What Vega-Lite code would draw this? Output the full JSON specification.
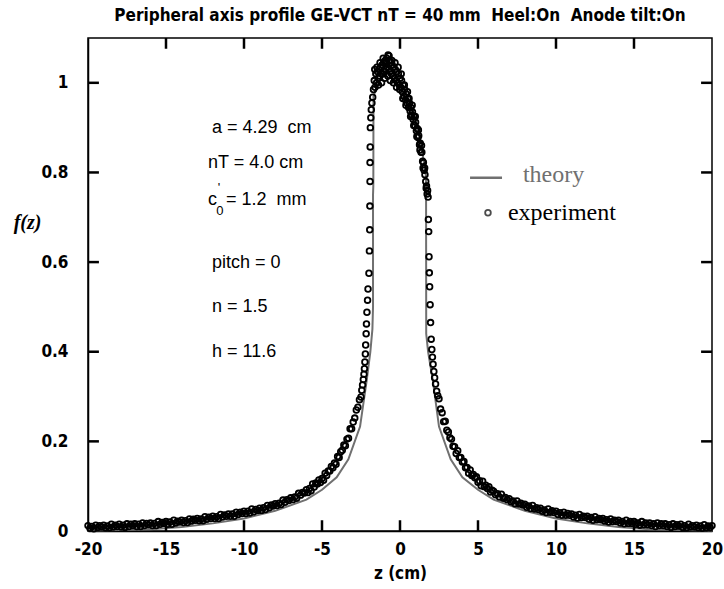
{
"$schema":"https://vega.github.io/schema/vega-lite/v6.json",
"width":624,"height":493,
"autosize":{"type":"none"},
"padding":{"left":88,"top":38,"right":12,"bottom":58},
"background":"white",
"title":{"text":"Peripheral axis profile GE-VCT nT = 40 mm\u00a0\u00a0Heel:On\u00a0\u00a0Anode tilt:On","font":"DejaVu Sans Condensed, sans-serif","fontSize":17,"fontWeight":"bold","color":"black","anchor":"middle","offset":12},
"config":{"view":{"stroke":"black","strokeWidth":1.5},
"axis":{"grid":false,"domainColor":"black","domainWidth":1.5,"ticks":false,"labelFont":"DejaVu Sans Condensed, sans-serif","labelFontSize":17,"labelFontWeight":"bold","labelColor":"black","titleColor":"black","labelFlush":false}},
"datasets":{
"theory":[{"i":0,"z":-20,"f":0.001},{"i":1,"z":-18,"f":0.002},{"i":2,"z":-16,"f":0.004},{"i":3,"z":-14,"f":0.009},{"i":4,"z":-12,"f":0.017},{"i":5,"z":-10,"f":0.028},{"i":6,"z":-8,"f":0.045},{"i":7,"z":-6,"f":0.07},{"i":8,"z":-5,"f":0.092},{"i":9,"z":-4.06,"f":0.12},{"i":10,"z":-3.31,"f":0.16},{"i":11,"z":-2.56,"f":0.233},{"i":12,"z":-2.13,"f":0.337},{"i":13,"z":-1.9,"f":0.4},{"i":14,"z":-1.77,"f":0.45},{"i":15,"z":-1.73,"f":0.5},{"i":16,"z":-1.73,"f":0.75},{"i":17,"z":-1.71,"f":0.77},{"i":18,"z":-1.7,"f":0.97},{"i":19,"z":-1.5,"f":0.99},{"i":20,"z":-1.2,"f":1.01},{"i":21,"z":-0.8,"f":1.022},{"i":22,"z":-0.4,"f":1.015},{"i":23,"z":0,"f":1.0},{"i":24,"z":0.4,"f":0.975},{"i":25,"z":0.8,"f":0.94},{"i":26,"z":1.2,"f":0.89},{"i":27,"z":1.5,"f":0.83},{"i":28,"z":1.67,"f":0.79},{"i":29,"z":1.68,"f":0.44},{"i":30,"z":1.8,"f":0.4},{"i":31,"z":2.1,"f":0.337},{"i":32,"z":2.5,"f":0.233},{"i":33,"z":3.25,"f":0.16},{"i":34,"z":4.0,"f":0.12},{"i":35,"z":5,"f":0.092},{"i":36,"z":6,"f":0.07},{"i":37,"z":8,"f":0.045},{"i":38,"z":10,"f":0.028},{"i":39,"z":12,"f":0.017},{"i":40,"z":14,"f":0.009},{"i":41,"z":16,"f":0.004},{"i":42,"z":18,"f":0.002},{"i":43,"z":20,"f":0.001}],
"exp":[
{"z":-20,"f":0.012},{"z":-19.875,"f":0.006},{"z":-19.75,"f":0.010},{"z":-19.625,"f":0.005},{"z":-19.5,"f":0.013},{"z":-19.375,"f":0.008},{"z":-19.25,"f":0.012},{"z":-19.125,"f":0.009},
{"z":-19,"f":0.013},{"z":-18.875,"f":0.007},{"z":-18.75,"f":0.011},{"z":-18.625,"f":0.007},{"z":-18.5,"f":0.015},{"z":-18.375,"f":0.009},{"z":-18.25,"f":0.013},{"z":-18.125,"f":0.010},
{"z":-18,"f":0.015},{"z":-17.875,"f":0.009},{"z":-17.75,"f":0.013},{"z":-17.625,"f":0.008},{"z":-17.5,"f":0.016},{"z":-17.375,"f":0.010},{"z":-17.25,"f":0.015},{"z":-17.125,"f":0.012},
{"z":-17,"f":0.016},{"z":-16.875,"f":0.010},{"z":-16.75,"f":0.015},{"z":-16.625,"f":0.010},{"z":-16.5,"f":0.018},{"z":-16.375,"f":0.012},{"z":-16.25,"f":0.017},{"z":-16.125,"f":0.014},
{"z":-16,"f":0.018},{"z":-15.875,"f":0.012},{"z":-15.75,"f":0.017},{"z":-15.625,"f":0.012},{"z":-15.5,"f":0.021},{"z":-15.375,"f":0.015},{"z":-15.25,"f":0.019},{"z":-15.125,"f":0.017},
{"z":-15,"f":0.021},{"z":-14.875,"f":0.015},{"z":-14.75,"f":0.020},{"z":-14.625,"f":0.015},{"z":-14.5,"f":0.024},{"z":-14.375,"f":0.018},{"z":-14.25,"f":0.022},{"z":-14.125,"f":0.020},
{"z":-14,"f":0.024},{"z":-13.875,"f":0.019},{"z":-13.75,"f":0.023},{"z":-13.625,"f":0.019},{"z":-13.5,"f":0.027},{"z":-13.375,"f":0.022},{"z":-13.25,"f":0.026},{"z":-13.125,"f":0.024},
{"z":-13,"f":0.028},{"z":-12.875,"f":0.023},{"z":-12.75,"f":0.027},{"z":-12.625,"f":0.023},{"z":-12.5,"f":0.032},{"z":-12.375,"f":0.026},{"z":-12.25,"f":0.031},{"z":-12.125,"f":0.028},
{"z":-12,"f":0.033},{"z":-11.875,"f":0.028},{"z":-11.75,"f":0.032},{"z":-11.625,"f":0.028},{"z":-11.5,"f":0.037},{"z":-11.375,"f":0.031},{"z":-11.25,"f":0.036},{"z":-11.125,"f":0.033},
{"z":-11,"f":0.038},{"z":-10.875,"f":0.033},{"z":-10.75,"f":0.038},{"z":-10.625,"f":0.033},{"z":-10.5,"f":0.042},{"z":-10.375,"f":0.037},{"z":-10.25,"f":0.042},{"z":-10.125,"f":0.039},
{"z":-10,"f":0.044},{"z":-9.875,"f":0.039},{"z":-9.75,"f":0.044},{"z":-9.625,"f":0.040},{"z":-9.5,"f":0.049},{"z":-9.375,"f":0.043},{"z":-9.25,"f":0.048},{"z":-9.125,"f":0.046},
{"z":-9,"f":0.051},{"z":-8.875,"f":0.046},{"z":-8.75,"f":0.052},{"z":-8.625,"f":0.048},{"z":-8.5,"f":0.057},{"z":-8.375,"f":0.052},{"z":-8.25,"f":0.058},{"z":-8.125,"f":0.056},
{"z":-8,"f":0.061},{"z":-7.875,"f":0.057},{"z":-7.75,"f":0.062},{"z":-7.625,"f":0.059},{"z":-7.5,"f":0.069},{"z":-7.375,"f":0.064},{"z":-7.25,"f":0.070},{"z":-7.125,"f":0.068},
{"z":-7,"f":0.074},{"z":-6.875,"f":0.070},{"z":-6.75,"f":0.076},{"z":-6.625,"f":0.073},{"z":-6.5,"f":0.084},{"z":-6.375,"f":0.080},{"z":-6.25,"f":0.086},{"z":-6.125,"f":0.085},
{"z":-6,"f":0.092},{"z":-5.9,"f":0.086},{"z":-5.8,"f":0.095},{"z":-5.7,"f":0.090},{"z":-5.6,"f":0.105},{"z":-5.5,"f":0.098},{"z":-5.4,"f":0.107},{"z":-5.3,"f":0.105},{"z":-5.2,"f":0.114},{"z":-5.1,"f":0.108},
{"z":-5,"f":0.117},{"z":-4.9,"f":0.113},{"z":-4.8,"f":0.129},{"z":-4.7,"f":0.124},{"z":-4.6,"f":0.134},{"z":-4.5,"f":0.134},{"z":-4.4,"f":0.144},{"z":-4.3,"f":0.141},{"z":-4.2,"f":0.152},{"z":-4.1,"f":0.149},
{"z":-4,"f":0.166},{"z":-3.9,"f":0.164},{"z":-3.8,"f":0.177},{"z":-3.7,"f":0.18},{"z":-3.6,"f":0.192},{"z":-3.5,"f":0.19},{"z":-3.4,"f":0.205},{"z":-3.3,"f":0.207},{"z":-3.2,"f":0.228},{"z":-3.1,"f":0.228},
{"z":-3,"f":0.243},{"z":-2.9,"f":0.252},{"z":-2.8,"f":0.27},{"z":-2.7,"f":0.276},{"z":-2.6,"f":0.293},{"z":-2.5,"f":0.299},
{"z":-2.45,"f":0.314},{"z":-2.4,"f":0.326},{"z":-2.35,"f":0.338},{"z":-2.31,"f":0.35},{"z":-2.28,"f":0.362},{"z":-2.25,"f":0.377},{"z":-2.22,"f":0.395},{"z":-2.2,"f":0.415},{"z":-2.17,"f":0.44},{"z":-2.15,"f":0.462},{"z":-2.12,"f":0.488},{"z":-2.08,"f":0.515},{"z":-2.05,"f":0.54},
{"z":-1.99,"f":0.575},{"z":-1.96,"f":0.625},{"z":-1.94,"f":0.672},{"z":-1.93,"f":0.725},{"z":-1.92,"f":0.78},{"z":-1.92,"f":0.822},{"z":-1.91,"f":0.857},{"z":-1.9,"f":0.9},{"z":-1.87,"f":0.922},{"z":-1.84,"f":0.94},{"z":-1.8,"f":0.955},{"z":-1.75,"f":0.968},
{"z":-1.7,"f":0.985},{"z":-1.65,"f":1.005},{"z":-1.62,"f":1.03},{"z":-1.6,"f":0.99},{"z":-1.55,"f":1.02},{"z":-1.5,"f":1.0},{"z":-1.48,"f":1.035},{"z":-1.45,"f":1.025},{"z":-1.4,"f":1.01},{"z":-1.38,"f":0.995},{"z":-1.35,"f":1.03},{"z":-1.3,"f":1.015},{"z":-1.28,"f":1.045},{"z":-1.25,"f":1.035},{"z":-1.2,"f":1.02},{"z":-1.18,"f":1.0},{"z":-1.15,"f":1.04},{"z":-1.1,"f":1.02},{"z":-1.08,"f":1.055},{"z":-1.05,"f":1.045},{"z":-1.0,"f":1.025},{"z":-0.98,"f":1.01},{"z":-0.95,"f":1.05},{"z":-0.9,"f":1.03},{"z":-0.88,"f":1.045},{"z":-0.85,"f":1.055},{"z":-0.8,"f":1.035},{"z":-0.78,"f":1.015},{"z":-0.76,"f":1.062},{"z":-0.72,"f":1.03},{"z":-0.7,"f":1.06},{"z":-0.68,"f":1.05},{"z":-0.64,"f":1.025},{"z":-0.62,"f":1.005},{"z":-0.6,"f":1.045},{"z":-0.55,"f":1.02},{"z":-0.52,"f":1.05},{"z":-0.5,"f":1.04},{"z":-0.45,"f":1.015},{"z":-0.42,"f":1.0},{"z":-0.4,"f":1.035},{"z":-0.35,"f":1.01},{"z":-0.32,"f":1.045},{"z":-0.3,"f":1.03},{"z":-0.25,"f":1.005},{"z":-0.22,"f":0.99},{"z":-0.2,"f":1.025},{"z":-0.15,"f":1.0},{"z":-0.12,"f":1.035},{"z":-0.1,"f":1.02},{"z":-0.05,"f":0.995},{"z":-0.02,"f":0.985},{"z":0,"f":1.01},{"z":0.05,"f":0.99},{"z":0.08,"f":1.02},{"z":0.1,"f":1.005},{"z":0.15,"f":0.98},{"z":0.18,"f":0.965},{"z":0.2,"f":0.995},{"z":0.25,"f":0.97},{"z":0.28,"f":0.995},{"z":0.3,"f":0.985},{"z":0.35,"f":0.962},{"z":0.38,"f":0.95},{"z":0.4,"f":0.975},{"z":0.45,"f":0.955},{"z":0.48,"f":0.98},{"z":0.5,"f":0.965},{"z":0.55,"f":0.945},{"z":0.58,"f":0.965},{"z":0.6,"f":0.955},{"z":0.65,"f":0.937},{"z":0.68,"f":0.925},{"z":0.7,"f":0.945},{"z":0.75,"f":0.928},{"z":0.78,"f":0.95},{"z":0.8,"f":0.935},{"z":0.85,"f":0.918},{"z":0.88,"f":0.905},{"z":0.9,"f":0.925},{"z":0.95,"f":0.905},{"z":0.98,"f":0.925},{"z":1.0,"f":0.912},{"z":1.05,"f":0.893},{"z":1.08,"f":0.88},{"z":1.1,"f":0.898},{"z":1.15,"f":0.878},{"z":1.18,"f":0.895},{"z":1.2,"f":0.882},{"z":1.25,"f":0.862},{"z":1.28,"f":0.85},{"z":1.3,"f":0.865},{"z":1.35,"f":0.845},{"z":1.38,"f":0.86},{"z":1.4,"f":0.845},{"z":1.45,"f":0.825},{"z":1.48,"f":0.81},{"z":1.5,"f":0.822},{"z":1.55,"f":0.805},{"z":1.58,"f":0.81},{"z":1.6,"f":0.795},{"z":1.65,"f":0.78},{"z":1.68,"f":0.765},{"z":1.7,"f":0.77},{"z":1.74,"f":0.752},{"z":1.77,"f":0.76},
{"z":1.8,"f":0.745},{"z":1.82,"f":0.695},{"z":1.84,"f":0.668},{"z":1.86,"f":0.612},{"z":1.88,"f":0.576},{"z":1.9,"f":0.545},{"z":1.93,"f":0.505},{"z":1.96,"f":0.465},{"z":2.0,"f":0.428},{"z":2.04,"f":0.405},{"z":2.08,"f":0.388},{"z":2.12,"f":0.372},{"z":2.17,"f":0.356},{"z":2.22,"f":0.342},{"z":2.28,"f":0.328},{"z":2.35,"f":0.312},{"z":2.42,"f":0.302},
{"z":2.5,"f":0.295},{"z":2.6,"f":0.272},{"z":2.7,"f":0.264},{"z":2.8,"f":0.244},{"z":2.9,"f":0.245},{"z":3.0,"f":0.225},{"z":3.1,"f":0.221},{"z":3.2,"f":0.208},{"z":3.3,"f":0.205},{"z":3.4,"f":0.189},{"z":3.5,"f":0.188},{"z":3.6,"f":0.173},{"z":3.7,"f":0.179},{"z":3.8,"f":0.164},{"z":3.9,"f":0.164},{"z":4.0,"f":0.154},{"z":4.1,"f":0.155},{"z":4.2,"f":0.141},{"z":4.3,"f":0.142},{"z":4.4,"f":0.129},{"z":4.5,"f":0.136},{"z":4.6,"f":0.124},{"z":4.7,"f":0.126},{"z":4.8,"f":0.119},{"z":4.9,"f":0.121},{"z":5.0,"f":0.109},{"z":5.1,"f":0.112},{"z":5.2,"f":0.101},{"z":5.3,"f":0.111},{"z":5.4,"f":0.099},{"z":5.5,"f":0.102},{"z":5.6,"f":0.095},{"z":5.7,"f":0.099},{"z":5.8,"f":0.087},{"z":5.9,"f":0.091},
{"z":6,"f":0.089},{"z":6.125,"f":0.081},{"z":6.25,"f":0.083},{"z":6.375,"f":0.076},{"z":6.5,"f":0.082},{"z":6.625,"f":0.073},{"z":6.75,"f":0.075},{"z":6.875,"f":0.070},
{"z":7,"f":0.072},{"z":7.125,"f":0.065},{"z":7.25,"f":0.067},{"z":7.375,"f":0.061},{"z":7.5,"f":0.067},{"z":7.625,"f":0.060},{"z":7.75,"f":0.062},{"z":7.875,"f":0.058},
{"z":8,"f":0.060},{"z":8.125,"f":0.053},{"z":8.25,"f":0.056},{"z":8.375,"f":0.050},{"z":8.5,"f":0.057},{"z":8.625,"f":0.049},{"z":8.75,"f":0.052},{"z":8.875,"f":0.048},
{"z":9,"f":0.051},{"z":9.125,"f":0.044},{"z":9.25,"f":0.047},{"z":9.375,"f":0.041},{"z":9.5,"f":0.049},{"z":9.625,"f":0.042},{"z":9.75,"f":0.045},{"z":9.875,"f":0.041},
{"z":10,"f":0.044},{"z":10.125,"f":0.037},{"z":10.25,"f":0.041},{"z":10.375,"f":0.035},{"z":10.5,"f":0.042},{"z":10.625,"f":0.035},{"z":10.75,"f":0.039},{"z":10.875,"f":0.035},
{"z":11,"f":0.038},{"z":11.125,"f":0.031},{"z":11.25,"f":0.035},{"z":11.375,"f":0.029},{"z":11.5,"f":0.037},{"z":11.625,"f":0.030},{"z":11.75,"f":0.033},{"z":11.875,"f":0.030},
{"z":12,"f":0.033},{"z":12.125,"f":0.026},{"z":12.25,"f":0.030},{"z":12.375,"f":0.024},{"z":12.5,"f":0.032},{"z":12.625,"f":0.025},{"z":12.75,"f":0.028},{"z":12.875,"f":0.025},
{"z":13,"f":0.028},{"z":13.125,"f":0.022},{"z":13.25,"f":0.025},{"z":13.375,"f":0.020},{"z":13.5,"f":0.027},{"z":13.625,"f":0.021},{"z":13.75,"f":0.024},{"z":13.875,"f":0.021},
{"z":14,"f":0.024},{"z":14.125,"f":0.018},{"z":14.25,"f":0.021},{"z":14.375,"f":0.016},{"z":14.5,"f":0.024},{"z":14.625,"f":0.017},{"z":14.75,"f":0.021},{"z":14.875,"f":0.017},
{"z":15,"f":0.021},{"z":15.125,"f":0.015},{"z":15.25,"f":0.018},{"z":15.375,"f":0.013},{"z":15.5,"f":0.021},{"z":15.625,"f":0.014},{"z":15.75,"f":0.018},{"z":15.875,"f":0.014},
{"z":16,"f":0.018},{"z":16.125,"f":0.012},{"z":16.25,"f":0.016},{"z":16.375,"f":0.010},{"z":16.5,"f":0.018},{"z":16.625,"f":0.012},{"z":16.75,"f":0.016},{"z":16.875,"f":0.012},
{"z":17,"f":0.016},{"z":17.125,"f":0.010},{"z":17.25,"f":0.014},{"z":17.375,"f":0.008},{"z":17.5,"f":0.016},{"z":17.625,"f":0.010},{"z":17.75,"f":0.014},{"z":17.875,"f":0.011},
{"z":18,"f":0.015},{"z":18.125,"f":0.008},{"z":18.25,"f":0.012},{"z":18.375,"f":0.007},{"z":18.5,"f":0.015},{"z":18.625,"f":0.009},{"z":18.75,"f":0.012},{"z":18.875,"f":0.009},
{"z":19,"f":0.013},{"z":19.125,"f":0.007},{"z":19.25,"f":0.011},{"z":19.375,"f":0.006},{"z":19.5,"f":0.014},{"z":19.625,"f":0.007},{"z":19.75,"f":0.011},{"z":19.875,"f":0.008},{"z":20,"f":0.012}],
"notes":[{"z":-12.05,"f":0.899,"t":"a = 4.29\u00a0\u00a0cm"},{"z":-12.31,"f":0.821,"t":"nT = 4.0 cm"},{"z":-12.31,"f":0.739,"t":"c"},{"z":-11.15,"f":0.739,"t":"= 1.2\u00a0\u00a0mm"},{"z":-12.05,"f":0.598,"t":"pitch = 0"},{"z":-12.05,"f":0.5,"t":"n = 1.5"},{"z":-12.05,"f":0.399,"t":"h = 11.6"}],
"subs":[{"z":-11.55,"f":0.714,"t":"0"},{"z":-11.6,"f":0.766,"t":"'"}],
"xticks":[{"z":-15,"a":0,"b":0.024},{"z":-10,"a":0,"b":0.024},{"z":-5,"a":0,"b":0.024},{"z":0,"a":0,"b":0.024},{"z":5,"a":0,"b":0.024},{"z":10,"a":0,"b":0.024},{"z":15,"a":0,"b":0.024},{"z":-15,"a":1.1,"b":1.076},{"z":-10,"a":1.1,"b":1.076},{"z":-5,"a":1.1,"b":1.076},{"z":0,"a":1.1,"b":1.076},{"z":5,"a":1.1,"b":1.076},{"z":10,"a":1.1,"b":1.076},{"z":15,"a":1.1,"b":1.076}],
"yticks":[{"f":0.2,"a":-20,"b":-19.3},{"f":0.4,"a":-20,"b":-19.3},{"f":0.6,"a":-20,"b":-19.3},{"f":0.8,"a":-20,"b":-19.3},{"f":1,"a":-20,"b":-19.3},{"f":0.2,"a":20,"b":19.3},{"f":0.4,"a":20,"b":19.3},{"f":0.6,"a":20,"b":19.3},{"f":0.8,"a":20,"b":19.3},{"f":1,"a":20,"b":19.3}]
},
"layer":[
{"data":{"name":"theory"},"mark":{"type":"line","color":"#707070","strokeWidth":2,"clip":false},
 "encoding":{
  "x":{"field":"z","type":"quantitative","scale":{"domain":[-20,20],"nice":false,"zero":false},
   "axis":{"orient":"bottom","values":[-20,-15,-10,-5,0,5,10,15,20],"labelExpr":"'' + datum.value","labelPadding":10,"title":"z (cm)","titleFont":"DejaVu Sans Condensed, sans-serif","titleFontSize":17,"titleFontWeight":"bold","titlePadding":8}},
  "y":{"field":"f","type":"quantitative","scale":{"domain":[0,1.1],"nice":false},
   "axis":{"orient":"left","values":[0,0.2,0.4,0.6,0.8,1],"format":"~g","labelPadding":20,"title":"f(z)","titleFont":"Liberation Serif, DejaVu Serif, serif","titleFontSize":20,"titleFontWeight":"bold","titleFontStyle":"italic","titleAngle":0,"titleAlign":"center","titleBaseline":"middle","titleX":-61,"titleY":184}},
  "order":{"field":"i","type":"quantitative"}}},
{"data":{"name":"xticks"},"mark":{"type":"rule","color":"#000000","strokeWidth":2.5,"opacity":1},
 "encoding":{"x":{"field":"z","type":"quantitative"},"y":{"field":"a","type":"quantitative"},"y2":{"field":"b"}}},
{"data":{"name":"yticks"},"mark":{"type":"rule","color":"#000000","strokeWidth":2.5,"opacity":1},
 "encoding":{"y":{"field":"f","type":"quantitative"},"x":{"field":"a","type":"quantitative"},"x2":{"field":"b"}}},
{"data":{"name":"exp"},"mark":{"type":"point","shape":"circle","filled":false,"stroke":"black","strokeWidth":1.8,"size":32,"opacity":1,"clip":false},
 "encoding":{"x":{"field":"z","type":"quantitative"},"y":{"field":"f","type":"quantitative"}}},
{"data":{"name":"notes"},"mark":{"type":"text","align":"left","baseline":"middle","font":"Liberation Sans, Arial, sans-serif","fontSize":18,"color":"black"},
 "encoding":{"x":{"field":"z","type":"quantitative"},"y":{"field":"f","type":"quantitative"},"text":{"field":"t"}}},
{"data":{"name":"subs"},"mark":{"type":"text","align":"center","baseline":"middle","font":"Liberation Sans, Arial, sans-serif","fontSize":13,"color":"black"},
 "encoding":{"x":{"field":"z","type":"quantitative"},"y":{"field":"f","type":"quantitative"},"text":{"field":"t"}}},
{"data":{"values":[{"z":4.49,"z2":6.54,"f":0.788}]},"mark":{"type":"rule","color":"#707070","strokeWidth":2.5},
 "encoding":{"x":{"field":"z","type":"quantitative"},"x2":{"field":"z2"},"y":{"field":"f","type":"quantitative"}}},
{"data":{"values":[{"z":7.88,"f":0.794,"t":"theory"}]},"mark":{"type":"text","align":"left","baseline":"middle","font":"Liberation Serif, Times New Roman, serif","fontSize":24,"color":"#707070"},
 "encoding":{"x":{"field":"z","type":"quantitative"},"y":{"field":"f","type":"quantitative"},"text":{"field":"t"}}},
{"data":{"values":[{"z":5.64,"f":0.71}]},"mark":{"type":"point","shape":"circle","filled":false,"stroke":"black","strokeWidth":1.8,"size":32},
 "encoding":{"x":{"field":"z","type":"quantitative"},"y":{"field":"f","type":"quantitative"}}},
{"data":{"values":[{"z":6.92,"f":0.71,"t":"experiment"}]},"mark":{"type":"text","align":"left","baseline":"middle","font":"Liberation Serif, Times New Roman, serif","fontSize":24,"color":"black"},
 "encoding":{"x":{"field":"z","type":"quantitative"},"y":{"field":"f","type":"quantitative"},"text":{"field":"t"}}}
]
}
